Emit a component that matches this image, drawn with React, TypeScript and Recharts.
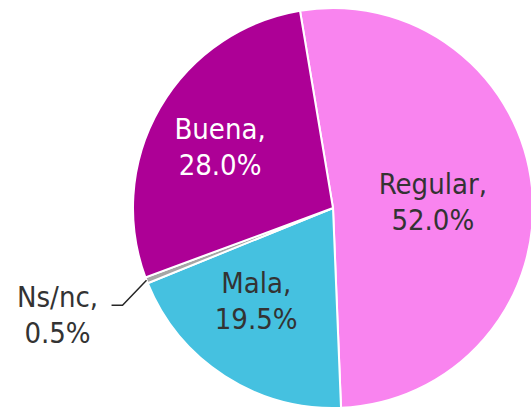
import React from 'react';
import { PieChart, Pie, Cell } from 'recharts';

const categories = ['Regular', 'Mala', 'Ns/nc', 'Buena'];
const values = [52.0, 19.5, 0.5, 28.0];
const colors = ['#F984EF', '#45C1E0', '#A6A6A6', '#AD0096'];
const textColors = ['#333333', '#333333', '#333333', '#FFFFFF'];

const data = categories.map((name, i) => ({ name, value: values[i] }));

const RAD = Math.PI / 180;
const FONT = '"DejaVu Sans Condensed", "DejaVu Sans", sans-serif';
const FS = 29;
const LH = 36;

// label placement inside slices: radius fraction and small angle nudge
const labelFrac = [0.5, 0.6, 1, 0.643];
const labelNudge = [-2.4, -7, 0, 1.5];

const renderLabel = (props: any) => {
  const { cx, cy, midAngle, outerRadius, index, name, value } = props;
  const pct = value.toFixed(1) + '%';

  if (index === 2) {
    // tiny slice: label outside with leader line
    const sx = cx + outerRadius * Math.cos(-midAngle * RAD);
    const sy = cy + outerRadius * Math.sin(-midAngle * RAD);
    const mx = sx - 24;
    const my = sy + 25;
    const ex = mx - 11;
    const tx = ex - 54;
    return (
      <g>
        <polyline points={`${sx},${sy} ${mx},${my} ${ex},${my}`} fill="none" stroke="#262626" strokeWidth={1.5} />
        <text x={tx} y={my + 2} textAnchor="middle" fill={textColors[index]} fontSize={FS} fontFamily={FONT} style={{ fontStretch: 'condensed' }}>
          <tspan x={tx} dy={0}>{name},</tspan>
          <tspan x={tx} dy={LH}>{pct}</tspan>
        </text>
      </g>
    );
  }

  const a = (midAngle + labelNudge[index]) * RAD;
  const r = outerRadius * labelFrac[index];
  const x = cx + r * Math.cos(-a);
  const y = cy + r * Math.sin(-a);
  return (
    <text x={x} y={y} textAnchor="middle" fill={textColors[index]} fontSize={FS} fontFamily={FONT} style={{ fontStretch: 'condensed' }}>
      <tspan x={x} dy={-7.5}>{name},</tspan>
      <tspan x={x} dy={LH}>{pct}</tspan>
    </text>
  );
};

export default function App() {
  return (
    <div style={{ position: 'absolute', left: 0, top: 0, width: 531, height: 408, background: '#fff' }}>
      <PieChart width={531} height={408} margin={{ top: 0, right: 0, bottom: 0, left: 0 }}>
        <Pie
          data={data}
          dataKey="value"
          nameKey="name"
          cx={333}
          cy={208}
          outerRadius={200}
          startAngle={99.5}
          endAngle={-260.5}
          stroke="#ffffff"
          strokeWidth={2}
          label={renderLabel}
          labelLine={false}
          isAnimationActive={false}
        >
          {data.map((d, i) => (
            <Cell key={d.name} fill={colors[i]} />
          ))}
        </Pie>
      </PieChart>
    </div>
  );
}
